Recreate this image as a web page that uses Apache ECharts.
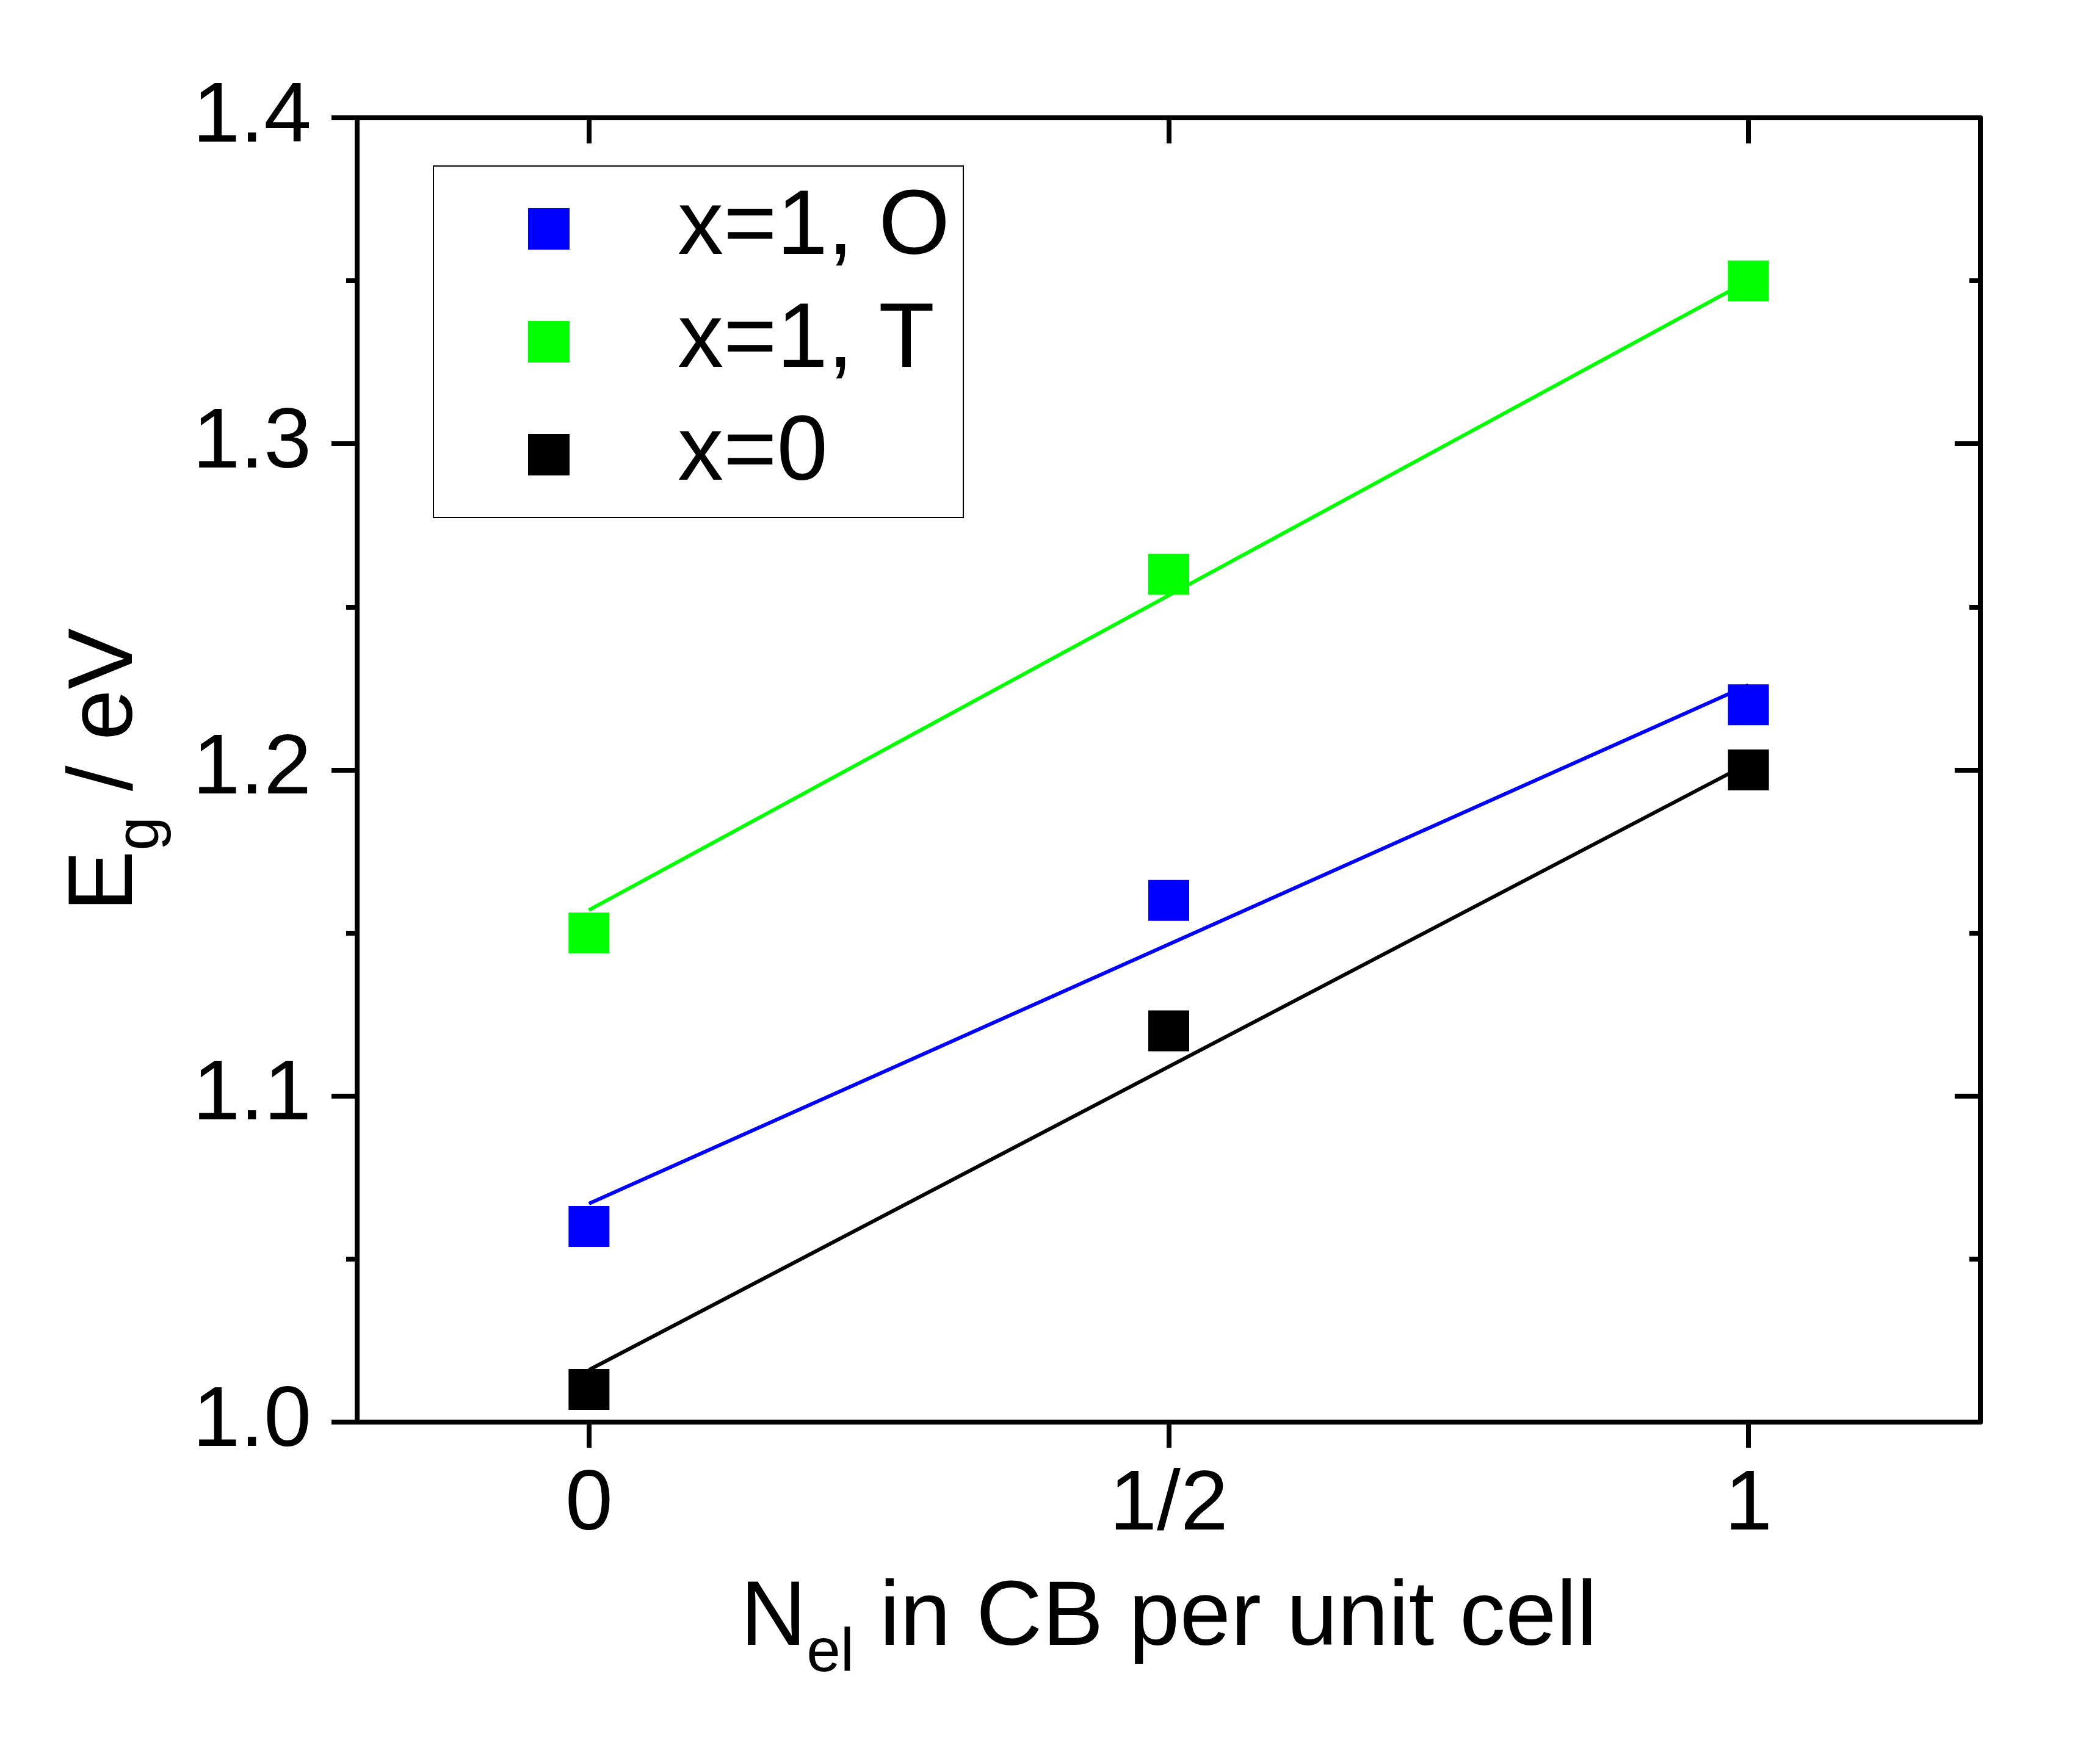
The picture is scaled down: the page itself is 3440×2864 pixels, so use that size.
<!DOCTYPE html>
<html><head><meta charset="utf-8">
<script src="https://cdn.jsdelivr.net/npm/echarts@6/dist/echarts.min.js"></script>
<style>html,body{margin:0;padding:0;background:#fff}#c{width:3440px;height:2864px}</style>
</head><body><div id="c"></div>
<script>
const xValues = [0, 0.5, 1];
const xTickLabels = ['0', '1/2', '1'];
const yTickLabels = ['1.0', '1.1', '1.2', '1.3', '1.4'];
const seriesNames = ['x=1, O', 'x=1, T', 'x=0'];
const valuesO = [1.06, 1.16, 1.22];
const valuesT = [1.15, 1.26, 1.35];
const values0 = [1.01, 1.12, 1.20];
const fitX = [0, 1];
const fitO = [1.067, 1.226];
const fitT = [1.157, 1.350];
const fit0 = [1.016, 1.202];
const colors = ['#0000FF', '#00FF00', '#000000'];

const FONT = 'Liberation Sans, Arial, sans-serif';
const chart = echarts.init(document.getElementById('c'), null, {renderer: 'canvas'});

const richName = {
  m: {fontSize: 150, fontFamily: FONT, color: '#000', lineHeight: 212, verticalAlign: 'middle'},
  s: {fontSize: 100, fontFamily: FONT, color: '#000', lineHeight: 100, verticalAlign: 'bottom'}
};

function xLabel(v) {
  for (let i = 0; i < xValues.length; i++) if (Math.abs(xValues[i] - v) < 1e-9) return xTickLabels[i];
  return '';
}
function yLabel(v) {
  const i = Math.round((v - 1.0) / 0.1);
  return yTickLabels[i] !== undefined ? yTickLabels[i] : '';
}

const axisLineStyle = {show: true, onZero: false, lineStyle: {color: '#000', width: 8}};
const tickStyle = {color: '#000', width: 8};

function mkSeries(name, vals, color) {
  return {
    name: name, type: 'scatter', symbol: 'rect', symbolSize: 67,
    itemStyle: {color: color, opacity: 1}, z: 2,
    data: xValues.map((x, i) => [x, vals[i]])
  };
}
function mkFit(name, vals, color) {
  return {
    name: name, type: 'line', showSymbol: false, symbol: 'none', silent: true, z: 3,
    lineStyle: {color: color, width: 6, opacity: 1}, itemStyle: {color: color},
    data: fitX.map((x, i) => [x, vals[i]])
  };
}

const option = {
  animation: false,
  backgroundColor: '#fff',
  grid: {left: 585, top: 193, right: 196, bottom: 534, containLabel: false},
  legend: {
    data: seriesNames, orient: 'vertical', left: 710, top: 272,
    padding: [28, 22, 28, 155], itemWidth: 68, itemHeight: 68, itemGap: 35,
    icon: 'rect', borderColor: '#000', borderWidth: 2, backgroundColor: 'transparent',
    selectedMode: false,
    itemStyle: {opacity: 1},
    textStyle: {fontSize: 150, fontFamily: FONT, color: '#000', padding: [0, 0, 0, 172]}
  },
  xAxis: [
    {
      type: 'value', position: 'bottom', min: -0.2, max: 1.2,
      axisLine: axisLineStyle,
      axisTick: {show: true, length: 42, lineStyle: tickStyle, customValues: xValues},
      axisLabel: {show: true, customValues: xValues, formatter: xLabel, fontSize: 140, fontFamily: FONT, color: '#000', margin: 67},
      splitLine: {show: false},
      name: '{m|N}{s|el}{m| in CB per unit cell}', nameLocation: 'middle', nameGap: 218,
      nameTextStyle: {fontSize: 150, fontFamily: FONT, color: '#000', rich: richName}
    },
    {
      type: 'value', position: 'top', min: -0.2, max: 1.2,
      axisLine: axisLineStyle,
      axisTick: {show: true, inside: true, length: 42, lineStyle: tickStyle, customValues: xValues},
      axisLabel: {show: false},
      splitLine: {show: false}
    }
  ],
  yAxis: [
    {
      type: 'value', position: 'left', min: 1.0, max: 1.4, interval: 0.1,
      axisLine: axisLineStyle,
      axisTick: {show: true, length: 42, lineStyle: tickStyle},
      minorTick: {show: true, splitNumber: 2, length: 18, lineStyle: tickStyle},
      axisLabel: {show: true, formatter: yLabel, fontSize: 140, fontFamily: FONT, color: '#000', margin: 75},
      splitLine: {show: false}, minorSplitLine: {show: false},
      name: '{m|E}{s|g}{m| / eV}', nameLocation: 'middle', nameGap: 304,
      nameTextStyle: {fontSize: 150, fontFamily: FONT, color: '#000', rich: richName}
    },
    {
      type: 'value', position: 'right', min: 1.0, max: 1.4, interval: 0.1,
      axisLine: axisLineStyle,
      axisTick: {show: true, inside: true, length: 42, lineStyle: tickStyle},
      minorTick: {show: true, splitNumber: 2, length: 18, lineStyle: tickStyle},
      axisLabel: {show: false},
      splitLine: {show: false}, minorSplitLine: {show: false}
    }
  ],
  series: [
    mkSeries(seriesNames[0], valuesO, colors[0]),
    mkSeries(seriesNames[1], valuesT, colors[1]),
    mkSeries(seriesNames[2], values0, colors[2]),
    mkFit('fit O', fitO, colors[0]),
    mkFit('fit T', fitT, colors[1]),
    mkFit('fit 0', fit0, colors[2])
  ]
};
chart.setOption(option);
</script>
</body></html>
